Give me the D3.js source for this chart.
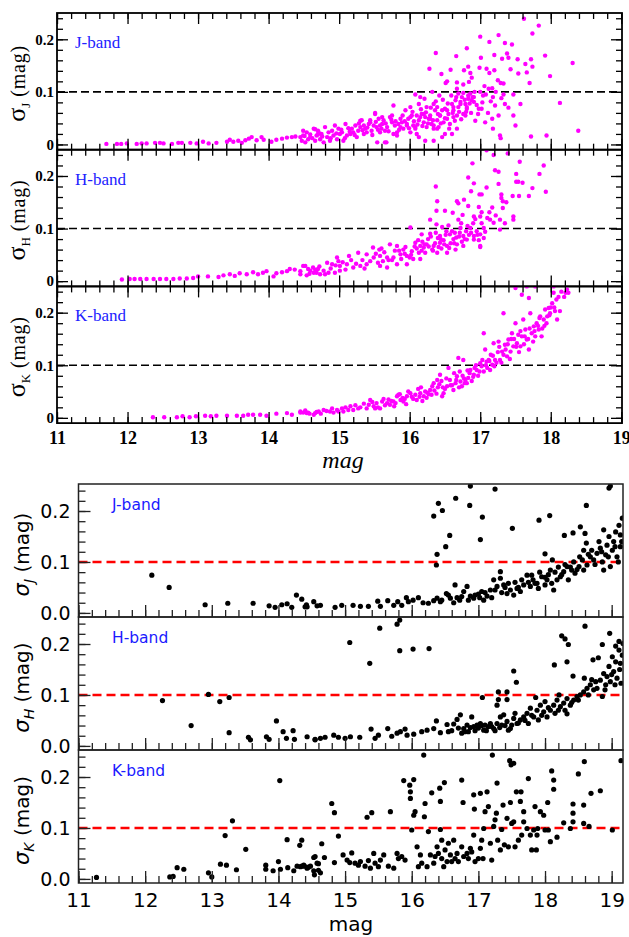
<!DOCTYPE html>
<html>
<head>
<meta charset="utf-8">
<script src="https://cdn.jsdelivr.net/npm/d3@7"></script>
<style>
  body { margin: 0; background: #fff; }
  svg { display: block; }
</style>
</head>
<body>
<svg id="chart" width="629" height="937"></svg>
<script>
// ---- data: [mag, sigma] ----
const bands = ["J", "H", "K"];
const magTicks = [11, 12, 13, 14, 15, 16, 17, 18, 19];
const sigmaTicks = [0, 0.1, 0.2];
const topSigmaLabels = ["0", "0.1", "0.2"];
const bottomSigmaLabels = ["0.0", "0.1", "0.2"];
const limit = 0.1;

const topJ = [
  [11.70,0.001],[11.85,0.001],[11.91,0.001],[11.99,0.002],[12.13,0.001],[12.20,0.002],[12.27,0.002],[12.39,0.003],[12.46,0.003],[12.51,0.002],
  [12.63,0.001],[12.72,0.003],[12.77,0.003],[12.89,0.003],[12.98,0.002],[13.07,0.005],[13.15,0.002],[13.26,0.003],[13.41,0.005],[13.45,0.009],
  [13.50,0.005],[13.57,0.007],[13.62,0.003],[13.67,0.008],[13.72,0.011],[13.76,0.014],[13.83,0.008],[13.90,0.014],[13.93,0.009],[14.04,0.005],
  [14.11,0.009],[14.19,0.011],[14.26,0.013],[14.33,0.014],[14.38,0.015],[14.45,0.014],[14.49,0.026],[14.51,0.016],[14.59,0.019],[14.66,0.029],[14.70,0.019],
  [14.47,0.007],[14.49,0.017],[14.52,0.004],[14.54,0.023],[14.56,0.010],[14.59,0.014],[14.64,0.030],[14.66,0.007],[14.68,0.017],[14.71,0.023],
  [14.73,0.010],[14.75,0.020],[14.78,0.004],[14.80,0.033],[14.83,0.014],[14.85,0.023],[14.87,0.007],[14.90,0.026],[14.92,0.017],[14.94,0.036],
  [14.97,0.010],[14.99,0.030],[15.01,0.020],[15.04,0.023],[15.06,0.007],[15.09,0.039],[15.11,0.017],[15.16,0.020],[15.18,0.030],[15.20,0.023],
  [15.23,0.036],[15.25,0.014],[15.27,0.026],[15.30,0.033],[15.32,0.046],[15.35,0.020],[15.37,0.030],[15.39,0.023],[15.42,0.039],[15.44,0.046],
  [15.46,0.026],[15.49,0.036],[15.51,0.058],[15.53,0.033],[15.56,0.049],[15.58,0.023],[15.61,0.039],[15.63,0.046],[15.65,0.004],[15.68,0.033],
  [15.72,0.052],[15.75,0.042],[15.77,0.020],[15.79,0.036],[15.82,0.017],[15.84,0.039],[15.87,0.033],[15.89,0.042],[15.91,0.030],[15.96,0.039],
  [15.98,0.049],[16.01,0.023],[16.03,0.055],[16.05,0.036],[16.08,0.033],[16.10,0.020],[16.13,0.046],[16.15,0.052],[16.17,0.058],[16.20,0.042],
  [16.22,0.052],[16.24,0.033],[16.27,0.049],[16.29,0.055],[16.31,0.039],[16.34,0.030],[16.36,0.065],[16.39,0.046],[16.41,0.033],[16.43,0.055],
  [16.46,0.065],[16.48,0.042],[16.50,0.068],[16.53,0.049],[16.55,0.058],[16.57,0.039],[16.60,0.077],[16.62,0.065],[16.65,0.084],[16.67,0.055],
  [16.69,0.071],[16.72,0.081],[16.74,0.090],[16.76,0.058],[16.79,0.077],[16.81,0.071],[16.83,0.087],[16.86,0.097],[16.88,0.084],[16.91,0.090],
  [17.62,0.239],[17.83,0.226],[17.74,0.211],[17.00,0.205],[17.26,0.208],[17.13,0.195],[17.35,0.193],[17.45,0.190],[16.81,0.183],[16.37,0.174],
  [16.66,0.168],[17.20,0.170],[17.01,0.165],[17.38,0.173],[17.40,0.165],[17.31,0.163],[17.53,0.162],[17.92,0.169],[18.31,0.155],[17.64,0.153],
  [17.72,0.162],[17.74,0.148],[16.28,0.144],[16.45,0.134],[16.58,0.142],[16.77,0.141],[16.83,0.148],[16.86,0.136],[16.99,0.146],[17.09,0.144],
  [17.13,0.136],[17.20,0.141],[17.43,0.143],[17.54,0.135],[17.66,0.137],[17.99,0.130],[16.51,0.117],[16.53,0.120],[16.67,0.118],[16.76,0.114],
  [16.84,0.119],[16.88,0.127],[17.06,0.111],[17.25,0.122],[17.29,0.117],[17.33,0.116],[17.70,0.117],[17.12,0.106],[17.17,0.107],[16.67,0.106],
  [16.32,0.100],[16.08,0.095],[16.15,0.090],[16.21,0.087],[16.42,0.093],[16.59,0.093],[16.69,0.097],[16.76,0.098],[16.83,0.093],[16.89,0.090],
  [17.00,0.100],[17.18,0.090],[17.33,0.095],[17.47,0.095],[17.04,0.093],[15.77,0.074],[16.01,0.071],[15.94,0.065],[16.13,0.077],[16.24,0.071],
  [16.34,0.077],[16.39,0.071],[16.53,0.065],[16.62,0.071],[16.72,0.077],[16.81,0.068],[16.91,0.081],[16.98,0.068],[17.02,0.068],[17.21,0.074],
  [17.35,0.077],[17.57,0.077],[18.13,0.079],[15.51,0.060],[15.61,0.052],[15.75,0.055],[15.87,0.049],[16.01,0.052],[16.10,0.055],[16.20,0.058],
  [16.29,0.049],[16.43,0.055],[16.62,0.052],[16.79,0.055],[16.93,0.045],[17.07,0.042],[17.17,0.049],[17.26,0.055],[17.47,0.055],[17.50,0.036],
  [17.18,0.030],[17.28,0.017],[17.29,0.012],[17.72,0.015],[17.94,0.017],[18.39,0.026],[15.30,0.045],[15.35,0.036],[15.44,0.042],[15.58,0.036],
  [15.65,0.026],[15.82,0.023],[15.96,0.036],[16.08,0.030],[16.13,0.014],[16.22,0.007],[16.34,0.036],[16.39,0.030],[16.46,0.014],[16.50,0.020],
  [16.60,0.020],[16.67,0.030],[15.54,0.004],[15.67,0.004],[16.34,0.007],
  [14.62,0.012],[14.70,0.026],[14.76,0.015],[14.88,0.012],[14.96,0.021],[15.03,0.028],[15.08,0.012],[15.13,0.031],[15.15,0.024],[15.22,0.018],
  [15.28,0.040],[15.33,0.027],[15.40,0.032],[15.47,0.018],[15.52,0.043],[15.55,0.028],[15.60,0.030],[15.66,0.040],[15.70,0.025],[15.74,0.047],
  [15.80,0.044],[15.85,0.028],[15.90,0.055],[15.93,0.044],[15.99,0.031],[16.04,0.062],[16.06,0.044],[16.11,0.038],[16.16,0.067],[16.18,0.035],
  [16.23,0.061],[16.26,0.040],[16.30,0.070],[16.33,0.046],[16.37,0.082],[16.40,0.058],[16.44,0.040],[16.47,0.085],[16.50,0.050],[16.54,0.078],
  [16.56,0.030],[16.61,0.060],[16.64,0.045],[16.66,0.090],[16.70,0.062],[16.73,0.048],[16.78,0.085],[16.80,0.062],[16.85,0.078],[16.87,0.060],
  [16.92,0.100],[16.95,0.075],[16.97,0.058],[17.03,0.080],[17.08,0.095],[17.11,0.060],[17.15,0.082],[17.22,0.100],[17.30,0.088],[17.40,0.070]
];

const topH = [
  [11.92,0.003],[12.03,0.004],[12.10,0.004],[12.18,0.004],[12.27,0.004],[12.37,0.004],[12.46,0.004],[12.55,0.004],[12.65,0.004],[12.74,0.005],
  [12.84,0.005],[12.93,0.006],[13.00,0.009],[13.14,0.009],[13.29,0.008],[13.36,0.011],[13.45,0.013],[13.52,0.010],[13.59,0.015],[13.69,0.013],
  [13.78,0.017],[13.85,0.013],[13.92,0.016],[13.97,0.019],[14.07,0.009],[14.11,0.015],[14.19,0.017],[14.26,0.019],[14.30,0.023],[14.37,0.022],
  [14.45,0.019],[14.49,0.029],[14.56,0.023],[14.63,0.026],[14.70,0.023],
  [14.52,0.029],[14.59,0.020],[14.68,0.016],[14.78,0.020],[14.85,0.016],[14.94,0.016],[15.01,0.020],[14.45,0.013],[14.54,0.011],[14.64,0.016],
  [14.73,0.013],[14.83,0.035],[14.90,0.032],[15.01,0.029],[15.11,0.032],[15.20,0.026],[15.30,0.029],[15.39,0.032],[15.58,0.029],[15.68,0.026],
  [15.82,0.032],[15.96,0.032],[14.97,0.045],[14.99,0.038],[15.14,0.048],[15.27,0.054],[15.39,0.051],[15.49,0.045],[15.58,0.048],[15.68,0.045],
  [15.77,0.045],[15.87,0.051],[15.96,0.048],[16.05,0.042],[16.15,0.042],[15.48,0.064],[15.57,0.060],[15.60,0.062],[15.72,0.070],[15.82,0.067],
  [15.91,0.060],[16.03,0.057],[16.13,0.054],[16.22,0.054],[16.39,0.054],[16.53,0.054],[16.65,0.060],[17.00,0.065],[16.08,0.073],[16.15,0.067],
  [16.24,0.070],[16.34,0.067],[16.43,0.073],[16.53,0.067],[16.67,0.070],[16.76,0.067],[16.81,0.079],[16.91,0.079],[17.00,0.067],[16.17,0.089],
  [16.29,0.090],[16.43,0.086],[16.57,0.089],[16.76,0.086],[16.91,0.086],[17.00,0.089],[17.05,0.082],[16.01,0.102],[16.38,0.108],[16.46,0.103],
  [16.55,0.106],[16.72,0.101],[16.86,0.101],[17.05,0.101],[16.29,0.117],[16.69,0.117],[17.00,0.123],[17.14,0.117],[17.19,0.111],[17.28,0.117],
  [17.28,0.098],[17.47,0.123],[17.47,0.117],[16.38,0.134],[16.50,0.134],[16.61,0.130],[16.75,0.126],[16.91,0.123],[17.02,0.131],[17.13,0.131],
  [17.32,0.139],[16.77,0.155],[16.67,0.152],[16.69,0.148],[16.39,0.152],[16.83,0.143],[16.98,0.141],[17.30,0.158],[17.32,0.152],[17.37,0.150],
  [17.46,0.162],[17.55,0.162],[17.69,0.162],[16.87,0.171],[16.99,0.165],[17.02,0.165],[17.09,0.178],[17.26,0.185],[17.30,0.165],[17.51,0.189],
  [17.54,0.189],[17.60,0.187],[17.74,0.177],[17.93,0.170],[16.37,0.180],[16.91,0.186],[16.83,0.197],[17.51,0.204],[17.84,0.204],[17.21,0.211],
  [17.26,0.208],[16.89,0.224],[17.56,0.227],[17.90,0.220],[17.09,0.249],[17.19,0.240],[17.39,0.243],
  [15.62,0.038],[15.75,0.040],[15.85,0.058],[15.93,0.052],[16.00,0.045],[16.10,0.062],[16.18,0.075],[16.20,0.064],[16.26,0.080],[16.32,0.060],
  [16.36,0.072],[16.40,0.082],[16.45,0.062],[16.48,0.078],[16.52,0.095],[16.58,0.072],[16.62,0.080],[16.64,0.092],[16.70,0.085],[16.74,0.075],
  [16.80,0.095],[16.84,0.088],[16.90,0.110],[16.95,0.095],[16.98,0.078],
  [14.58,0.014],[14.66,0.022],[14.72,0.028],[14.80,0.013],[14.88,0.024],[14.95,0.030],[15.05,0.036],[15.09,0.022],[15.17,0.040],[15.24,0.033],
  [15.33,0.040],[15.36,0.024],[15.44,0.038],[15.52,0.052],[15.55,0.035],[15.64,0.055],[15.70,0.040],[15.79,0.058],[15.88,0.042],[15.94,0.065],
  [16.02,0.050],[16.07,0.066],[16.12,0.078],[16.17,0.058],[16.21,0.070],[16.27,0.066],[16.30,0.085],[16.33,0.058],[16.37,0.092],[16.41,0.065],
  [16.44,0.080],[16.49,0.070],[16.51,0.088],[16.56,0.063],[16.60,0.095],[16.63,0.072],[16.66,0.083],[16.71,0.092],[16.73,0.110],[16.78,0.080],
  [16.82,0.105],[16.87,0.092],[16.93,0.118],[16.96,0.088],[17.02,0.110],[17.07,0.094],[17.10,0.120],[17.17,0.140],[17.22,0.125],[17.35,0.110]
];

const topK = [
  [12.36,0.001],[12.52,0.001],[12.70,0.001],[12.78,0.003],[12.88,0.001],[12.97,0.003],[13.10,0.004],[13.18,0.003],[13.26,0.004],[13.41,0.004],
  [13.55,0.004],[13.64,0.004],[13.71,0.006],[13.78,0.006],[13.88,0.006],[13.97,0.004],[14.11,0.008],[14.26,0.009],[14.33,0.006],[14.45,0.012],
  [14.49,0.010],[14.52,0.014],[14.56,0.010],[14.66,0.009],[14.71,0.012],
  [14.45,0.010],[14.52,0.012],[14.54,0.009],[14.64,0.006],[14.78,0.015],[14.87,0.012],[14.92,0.010],[14.97,0.015],[15.04,0.018],[15.06,0.012],
  [15.16,0.022],[15.20,0.015],[15.27,0.018],[15.39,0.018],[15.42,0.025],[15.44,0.034],[15.49,0.022],[15.53,0.028],[15.58,0.018],[15.61,0.031],
  [15.68,0.028],[15.72,0.025],[15.77,0.031],[15.82,0.041],[15.84,0.044],[15.87,0.034],[15.91,0.031],[15.96,0.041],[16.01,0.047],[16.08,0.044],
  [16.10,0.034],[16.15,0.047],[16.20,0.041],[16.24,0.038],[16.29,0.053],[16.31,0.044],[16.34,0.066],[16.39,0.072],[16.43,0.082],[16.46,0.041],
  [16.48,0.047],[16.53,0.060],[16.55,0.095],[16.57,0.072],[16.62,0.053],[16.65,0.066],[16.67,0.079],[16.69,0.114],[16.72,0.069],[16.74,0.060],
  [16.76,0.110],[16.79,0.072],[16.81,0.066],[16.83,0.076],[16.86,0.091],[16.91,0.082],[16.95,0.091],[17.00,0.104],[17.02,0.098],[17.05,0.161],
  [17.07,0.130],[17.09,0.107],[17.12,0.110],[17.14,0.091],[17.17,0.101],[17.19,0.142],[17.21,0.110],[17.26,0.145],[17.28,0.110],[17.31,0.126],
  [17.33,0.199],[17.35,0.139],[17.38,0.117],[17.40,0.149],[17.43,0.126],[17.45,0.161],[17.47,0.136],[17.50,0.180],[17.52,0.142],[17.54,0.158],
  [17.57,0.136],[17.59,0.155],[17.61,0.187],[17.64,0.168],[17.66,0.149],[17.69,0.130],[17.71,0.199],[17.73,0.161],[17.76,0.174],[17.78,0.155],
  [17.80,0.180],[17.83,0.168],[17.85,0.193],[17.87,0.155],[17.90,0.187],[17.92,0.206],[17.95,0.193],[17.97,0.209],[17.99,0.199],[18.02,0.218],
  [18.04,0.238],[18.06,0.203],[18.09,0.187],[18.13,0.203],[18.21,0.238],[18.23,0.244],[18.25,0.238],[17.50,0.247],[17.66,0.250],[17.78,0.250],
  [18.04,0.250],[17.59,0.234],[17.69,0.228],
  [15.55,0.020],[15.65,0.024],[15.70,0.035],[15.80,0.028],[15.90,0.038],[15.95,0.026],[16.05,0.036],[16.12,0.055],[16.18,0.032],[16.22,0.050],
  [16.27,0.045],[16.35,0.052],[16.40,0.058],[16.45,0.070],[16.50,0.055],[16.60,0.062],[16.63,0.085],[16.70,0.058],[16.75,0.080],[16.78,0.066],
  [16.85,0.085],[16.88,0.070],[16.92,0.095],[16.97,0.080],[17.05,0.088],[17.10,0.095],[17.15,0.120],[17.20,0.098],[17.25,0.125],[17.30,0.105],
  [17.36,0.130],[17.42,0.112],[17.48,0.150],[17.55,0.125],[17.62,0.140],[17.68,0.150],[17.75,0.145],[17.82,0.175],[17.88,0.170],[17.94,0.180],
  [18.00,0.210],[18.08,0.225],[18.15,0.240],[18.19,0.230],
  [14.58,0.008],[14.68,0.011],[14.74,0.008],[14.82,0.013],[14.90,0.018],[14.99,0.012],[15.09,0.020],[15.13,0.015],[15.23,0.024],[15.30,0.020],
  [15.35,0.027],[15.47,0.030],[15.51,0.018],[15.63,0.036],[15.74,0.032],[15.78,0.022],[15.86,0.045],[15.93,0.036],[15.98,0.050],[16.03,0.040],
  [16.14,0.040],[16.16,0.058],[16.25,0.048],[16.32,0.060],[16.38,0.046],[16.42,0.064],[16.47,0.058],[16.52,0.075],[16.58,0.062],[16.66,0.072],
  [16.71,0.088],[16.77,0.075],[16.82,0.090],[16.90,0.078],[16.94,0.100],[16.99,0.088],[17.03,0.110],[17.08,0.100],[17.13,0.108],[17.18,0.118],
  [17.23,0.105],[17.27,0.135],[17.33,0.120],[17.39,0.140],[17.44,0.150],[17.51,0.135],[17.57,0.165],[17.63,0.155],[17.70,0.170],[17.77,0.165],
  [17.84,0.190],[17.91,0.175],[17.98,0.195],[18.05,0.210],[18.11,0.230]
];

const botJ = [
  [12.10,0.074],[12.36,0.050],[12.90,0.016],[13.24,0.019],[13.62,0.019],[13.86,0.014],[13.95,0.011],[14.05,0.016],[14.13,0.018],[14.20,0.011],
  [14.27,0.035],[14.35,0.027],[14.40,0.012],[14.42,0.016],[14.53,0.022],[14.58,0.014],[14.43,0.012],[14.63,0.015],[14.85,0.011],[14.95,0.015],
  [15.12,0.015],[15.23,0.013],[15.35,0.013],[15.49,0.023],[15.53,0.013],[15.64,0.024],[15.73,0.015],[15.79,0.022],[15.85,0.015],[15.92,0.030],
  [15.95,0.022],[16.02,0.025],[16.10,0.030],[16.17,0.020],[16.25,0.019],[16.33,0.024],[16.38,0.029],[16.43,0.022],[16.52,0.038],[16.58,0.029],
  [16.63,0.020],[16.65,0.055],[16.72,0.025],[16.78,0.042],[16.83,0.052],[16.88,0.033],[16.93,0.029],[17.00,0.037],[17.05,0.042],[17.08,0.025],
  [17.13,0.033],[17.18,0.045],[17.23,0.065],[17.28,0.052],[17.33,0.068],[17.33,0.081],[17.38,0.055],[17.43,0.038],[17.45,0.058],[17.53,0.035],
  [17.58,0.048],[17.63,0.042],[17.68,0.055],[17.73,0.074],[17.78,0.052],[17.80,0.074],[17.85,0.058],[17.90,0.048],[17.95,0.071],[18.00,0.055],
  [18.03,0.065],[18.08,0.084],[18.10,0.058],[18.13,0.045],[18.18,0.065],[18.23,0.071],[18.28,0.081],[18.33,0.091],[18.35,0.065],[18.40,0.084],
  [18.43,0.100],[18.45,0.078],[18.51,0.091],[18.56,0.104],[18.58,0.084],[18.63,0.094],[18.68,0.110],[18.70,0.123],[18.73,0.104],[18.78,0.117],
  [18.81,0.140],[18.83,0.127],[18.86,0.100],[18.88,0.163],[18.88,0.084],[18.91,0.114],[18.93,0.133],[18.96,0.150],[18.98,0.091],[19.01,0.123],
  [19.03,0.140],[19.06,0.159],[19.08,0.110],[19.11,0.172],[19.13,0.130],[19.16,0.186],[19.13,0.153],[18.58,0.123],[18.62,0.137],[18.60,0.156],
  [18.53,0.169],[18.42,0.157],[18.29,0.152],[18.00,0.116],[18.11,0.104],[16.38,0.115],[16.37,0.094],[16.33,0.190],[16.40,0.215],[16.46,0.201],
  [16.51,0.130],[16.57,0.152],[16.66,0.225],[16.87,0.211],[16.88,0.249],[17.06,0.188],[17.03,0.144],[17.25,0.243],[17.51,0.166],[17.91,0.182],
  [18.07,0.191],[18.62,0.211],[18.96,0.245],[18.98,0.249],
  [17.10,0.040],[17.20,0.030],[17.25,0.045],[17.35,0.040],[17.40,0.050],[17.48,0.045],[17.55,0.060],[17.60,0.050],[17.65,0.065],[17.75,0.060],
  [17.82,0.065],[17.88,0.058],[17.92,0.080],[18.00,0.070],[18.05,0.075],[18.15,0.080],[18.20,0.090],[18.25,0.075],[18.30,0.095],[18.38,0.090],
  [18.48,0.085],[18.52,0.110],[18.65,0.115],[18.75,0.095],[18.85,0.120],[18.95,0.110],[19.05,0.130],[19.10,0.100],[19.15,0.140],[16.95,0.035],
  [17.02,0.030],[16.75,0.032],[16.85,0.025],[16.45,0.025],[16.55,0.035],[16.68,0.030]
];

const botH = [
  [12.26,0.089],[12.69,0.040],[12.95,0.101],[13.12,0.087],[13.26,0.095],[13.26,0.026],[13.55,0.017],[13.58,0.012],[13.82,0.018],[13.86,0.013],
  [13.97,0.049],[14.07,0.028],[14.12,0.015],[14.22,0.030],[14.24,0.013],[14.43,0.018],[14.55,0.012],
  [14.55,0.013],[14.63,0.015],[14.70,0.017],[14.83,0.021],[14.90,0.017],[15.00,0.015],[15.08,0.018],[15.07,0.203],[15.22,0.017],
  [15.37,0.162],[15.39,0.033],[15.45,0.015],[15.50,0.021],[15.52,0.231],[15.64,0.034],[15.70,0.019],[15.78,0.025],[15.83,0.028],[15.90,0.033],
  [15.93,0.021],[16.03,0.023],[15.78,0.239],[15.82,0.247],[15.82,0.187],[16.02,0.190],[16.26,0.191],
  [16.15,0.028],[16.23,0.031],[16.33,0.034],[16.37,0.049],[16.43,0.026],[16.53,0.042],[16.55,0.028],[16.63,0.043],[16.68,0.052],[16.73,0.061],
  [16.75,0.025],[16.78,0.034],[16.83,0.041],[16.85,0.028],[16.90,0.057],[16.93,0.038],[16.98,0.041],[17.03,0.044],[17.08,0.031],[17.10,0.041],
  [17.15,0.038],[17.18,0.044],[17.23,0.034],[17.28,0.044],[17.33,0.057],[17.35,0.041],[17.38,0.061],[17.43,0.048],[17.45,0.031],[17.50,0.041],
  [17.53,0.054],[17.55,0.064],[17.58,0.044],[17.63,0.051],[17.68,0.057],[17.73,0.064],[17.75,0.044],[17.78,0.074],[17.83,0.057],[17.88,0.070],
  [17.90,0.051],[17.93,0.080],[17.98,0.067],[18.00,0.087],[18.03,0.057],[18.08,0.070],[18.13,0.080],[18.15,0.064],[18.18,0.090],[18.23,0.077],
  [18.28,0.084],[18.30,0.070],[18.33,0.093],[18.38,0.080],[18.43,0.090],[18.48,0.097],[18.53,0.100],[18.58,0.106],[18.63,0.113],[18.68,0.120],
  [18.73,0.110],[18.76,0.126],[18.78,0.113],[18.83,0.129],[18.86,0.097],[18.88,0.142],[18.91,0.120],[18.93,0.136],[18.96,0.156],[18.98,0.126],
  [19.01,0.175],[19.03,0.146],[19.06,0.165],[19.08,0.133],[19.11,0.188],[19.13,0.162],[19.14,0.123],[19.16,0.178],[19.17,0.201],
  [17.06,0.095],[17.28,0.080],[17.30,0.091],[17.30,0.106],[17.43,0.106],[17.43,0.091],[17.53,0.147],[17.57,0.125],[17.86,0.095],[18.14,0.159],
  [18.25,0.216],[18.30,0.210],[18.35,0.199],[18.33,0.165],[18.42,0.137],[18.60,0.235],[18.59,0.133],[18.72,0.169],[18.80,0.173],[18.86,0.199],
  [18.97,0.221],[19.06,0.196],[19.11,0.205],[18.33,0.063],[18.21,0.100],
  [16.60,0.030],[16.70,0.035],[16.80,0.028],[16.88,0.036],[16.95,0.030],[17.00,0.035],[17.05,0.040],[17.12,0.030],[17.20,0.038],[17.25,0.030],
  [17.32,0.036],[17.40,0.040],[17.48,0.034],[17.60,0.045],[17.70,0.050],[17.80,0.060],[17.95,0.060],[18.05,0.075],[18.20,0.070],[18.40,0.085],
  [18.50,0.090],[18.65,0.100],[18.70,0.130],[18.90,0.110],[19.00,0.140],[19.05,0.120],[19.12,0.150]
];

const botK = [
  [11.27,0.003],[12.37,0.004],[12.42,0.005],[12.48,0.022],[12.58,0.019],[12.95,0.012],[13.00,0.004],[13.13,0.029],[13.22,0.027],[13.20,0.085],
  [13.31,0.114],[13.37,0.018],[13.51,0.058],[13.81,0.027],[13.81,0.019],[13.92,0.016],[14.00,0.034],[14.03,0.019],[14.13,0.077],[14.14,0.022],
  [14.23,0.016],[14.28,0.025],[14.32,0.066],[14.35,0.076],[14.35,0.025],[14.39,0.025],[14.45,0.023],[14.53,0.042],[14.54,0.008],[14.60,0.030],
  [14.02,0.193],
  [14.33,0.024],[14.38,0.027],[14.43,0.021],[14.48,0.025],[14.53,0.016],[14.55,0.044],[14.58,0.031],[14.60,0.017],[14.63,0.012],[14.65,0.069],
  [14.69,0.042],[14.80,0.148],[14.84,0.130],[14.84,0.032],[14.90,0.084],[14.97,0.047],[15.03,0.037],[15.07,0.032],[15.10,0.051],[15.15,0.031],
  [15.20,0.027],[15.23,0.034],[15.30,0.025],[15.33,0.121],[15.35,0.036],[15.38,0.021],[15.40,0.130],[15.43,0.050],[15.45,0.031],[15.50,0.024],
  [15.53,0.037],[15.58,0.047],[15.65,0.025],[15.68,0.132],[15.73,0.021],[15.78,0.050],[15.80,0.040],[15.85,0.044],[15.88,0.193],[15.90,0.037],
  [15.97,0.184],[15.98,0.171],[15.98,0.158],[16.00,0.096],[16.03,0.195],[16.03,0.125],[16.05,0.132],[16.08,0.063],[16.10,0.024],[16.13,0.047],
  [16.15,0.031],[16.18,0.243],[16.19,0.122],[16.20,0.148],[16.23,0.024],[16.25,0.093],[16.28,0.047],[16.30,0.169],[16.33,0.031],[16.35,0.044],
  [16.38,0.063],[16.40,0.050],[16.42,0.178],[16.43,0.152],[16.43,0.097],[16.45,0.076],[16.45,0.040],[16.48,0.024],[16.49,0.189],[16.50,0.057],
  [16.53,0.034],[16.55,0.070],[16.58,0.047],[16.60,0.034],[16.63,0.076],[16.65,0.040],[16.68,0.050],[16.70,0.034],[16.75,0.194],[16.75,0.063],
  [16.77,0.150],[16.78,0.044],[16.83,0.050],[16.85,0.040],[16.88,0.060],[16.90,0.053],[16.93,0.165],[16.93,0.086],[16.94,0.137],[16.95,0.034],
  [17.00,0.040],[17.03,0.060],[17.03,0.168],[17.05,0.076],[17.07,0.040],[17.08,0.099],[17.10,0.132],[17.13,0.171],[17.15,0.142],[17.18,0.070],
  [17.20,0.037],[17.21,0.243],[17.23,0.103],[17.25,0.116],[17.27,0.129],[17.28,0.188],[17.29,0.076],[17.33,0.057],[17.35,0.097],[17.37,0.145],
  [17.39,0.067],[17.43,0.119],[17.45,0.063],[17.47,0.232],[17.48,0.150],[17.49,0.224],[17.50,0.109],[17.53,0.227],[17.53,0.112],[17.55,0.063],
  [17.57,0.171],[17.60,0.076],[17.63,0.152],[17.64,0.171],[17.65,0.086],[17.68,0.132],[17.68,0.112],[17.73,0.099],[17.75,0.197],[17.78,0.086],
  [17.80,0.057],[17.83,0.096],[17.85,0.142],[17.87,0.057],[17.88,0.086],[17.89,0.099],[17.93,0.132],[17.98,0.125],[18.00,0.096],[18.04,0.150],
  [18.05,0.096],[18.08,0.073],[18.10,0.212],[18.13,0.194],[18.13,0.176],[18.18,0.082],[18.28,0.110],[18.38,0.099],[18.42,0.147],[18.42,0.129],
  [18.42,0.112],[18.50,0.206],[18.58,0.145],[18.58,0.109],[18.59,0.230],[18.66,0.103],[18.69,0.168],[18.83,0.173],[19.01,0.096],[19.14,0.232]
];

// ---- drawing ----
const svg = d3.select("#chart");
const defs = svg.append("defs");

const minorMag = d3.range(0, 42).map(i => 11 + i * 0.2);
const minorSigma = d3.range(0, 13).map(i => i * 0.02);

const figures = [
  {
    id: "top", series: [topJ, topH, topK],
    xDomain: [11, 19.01], xRange: [57, 622],
    top: 13, panelH: 136.7, yDomain: [-0.01, 0.25],
    yLabels: topSigmaLabels,
    font: "'Liberation Serif', 'Times New Roman', serif", weight: "bold",
    yFontSize: 15, yPad: 3, xFontSize: 18, xPad: 8,
    frameColor: "#000", frameWidth: 1.8, tickWidth: 1.3, majorLen: 11, minorLen: 6,
    ticksTop: true, ticksRight: true,
    pointColor: "#ff00ff", r: 2.2,
    limitColor: "#000", limitWidth: 1.6, limitDash: "8,4",
    bandX: 75, bandDy: 35, bandFont: 17, bandColor: "#2222ff",
    labelX: 25, labelDy: 2
  },
  {
    id: "bottom", series: [botJ, botH, botK],
    xDomain: [11, 19.17], xRange: [78.5, 623],
    top: 484, panelH: 133, yDomain: [-0.008, 0.253],
    yLabels: bottomSigmaLabels,
    font: "'DejaVu Sans', sans-serif", weight: "normal",
    yFontSize: 19, yPad: 8, xFontSize: 20, xPad: 10,
    frameColor: "#222", frameWidth: 1.5, tickWidth: 1.3, majorLen: 12, minorLen: 7,
    ticksTop: false, ticksRight: false,
    pointColor: "#000", r: 2.6,
    limitColor: "#ff0000", limitWidth: 2.5, limitDash: "9,5",
    bandX: 112, bandDy: 26, bandFont: 15.5, bandColor: "#1a1aff",
    labelX: 29, labelDy: 4
  }
];

function styleTicks(f) {
  return a => {
    a.select(".domain").remove();
    a.selectAll(".tick line").attr("stroke", f.frameColor).attr("stroke-width", f.tickWidth);
    a.attr("font-family", f.font).attr("color", "#000");
    a.selectAll(".tick text").attr("font-weight", f.weight);
  };
}

figures.forEach(f => {
  const x = d3.scaleLinear().domain(f.xDomain).range(f.xRange);
  const [x0, x1] = f.xRange;
  const fig = svg.append("g").attr("class", `${f.id}-figure`);

  f.series.forEach((data, i) => {
    const top = f.top + i * f.panelH;
    const bottom = top + f.panelH;
    const y = d3.scaleLinear().domain(f.yDomain).range([bottom, top]);
    const g = fig.append("g").attr("class", "panel");

    const clipId = `${f.id}-clip-${i}`;
    defs.append("clipPath").attr("id", clipId).append("rect")
      .attr("x", x0).attr("y", top).attr("width", x1 - x0).attr("height", f.panelH);

    // 0.1 mag limit
    g.append("line")
      .attr("x1", x0).attr("x2", x1)
      .attr("y1", y(limit)).attr("y2", y(limit))
      .attr("stroke", f.limitColor).attr("stroke-width", f.limitWidth)
      .attr("stroke-dasharray", f.limitDash);

    g.append("g").attr("clip-path", `url(#${clipId})`)
      .selectAll("circle").data(data).join("circle")
      .attr("cx", d => x(d[0]))
      .attr("cy", d => y(d[1]))
      .attr("r", f.r)
      .attr("fill", f.pointColor);

    // y ticks (inward)
    g.append("g").attr("transform", `translate(${x0},0)`)
      .call(d3.axisLeft(y).tickValues(minorSigma).tickFormat("").tickSize(-f.minorLen))
      .call(styleTicks(f));
    g.append("g").attr("transform", `translate(${x0},0)`)
      .call(d3.axisLeft(y).tickValues(sigmaTicks).tickFormat((d, k) => f.yLabels[k])
        .tickSize(-f.majorLen).tickPadding(f.yPad))
      .call(styleTicks(f))
      .attr("font-size", f.yFontSize);

    if (f.ticksRight) {
      g.append("g").attr("transform", `translate(${x1},0)`)
        .call(d3.axisRight(y).tickValues(minorSigma).tickFormat("").tickSize(-f.minorLen))
        .call(styleTicks(f));
      g.append("g").attr("transform", `translate(${x1},0)`)
        .call(d3.axisRight(y).tickValues(sigmaTicks).tickFormat("").tickSize(-f.majorLen))
        .call(styleTicks(f));
    }

    // x ticks (inward)
    const last = i === f.series.length - 1;
    g.append("g").attr("transform", `translate(0,${bottom})`)
      .call(d3.axisBottom(x).tickValues(minorMag.filter(v => v <= f.xDomain[1])).tickFormat("").tickSize(-f.minorLen))
      .call(styleTicks(f));
    g.append("g").attr("transform", `translate(0,${bottom})`)
      .call(d3.axisBottom(x).tickValues(magTicks).tickFormat(last ? d3.format("d") : "")
        .tickSize(-f.majorLen).tickPadding(f.xPad))
      .call(styleTicks(f))
      .attr("font-size", f.xFontSize);

    if (f.ticksTop) {
      g.append("g").attr("transform", `translate(0,${top})`)
        .call(d3.axisTop(x).tickValues(minorMag.filter(v => v <= f.xDomain[1])).tickFormat("").tickSize(-f.minorLen))
        .call(styleTicks(f));
      g.append("g").attr("transform", `translate(0,${top})`)
        .call(d3.axisTop(x).tickValues(magTicks).tickFormat("").tickSize(-f.majorLen))
        .call(styleTicks(f));
    }

    g.append("rect")
      .attr("x", x0).attr("y", top)
      .attr("width", x1 - x0).attr("height", f.panelH)
      .attr("fill", "none")
      .attr("stroke", f.frameColor).attr("stroke-width", f.frameWidth);

    // band name
    g.append("text")
      .attr("x", f.bandX).attr("y", top + f.bandDy)
      .attr("font-family", f.font).attr("font-size", f.bandFont)
      .attr("fill", f.bandColor)
      .text(`${bands[i]}-band`);

    // y label
    const lab = g.append("text")
      .attr("transform", `translate(${f.labelX},${top + f.panelH / 2 + f.labelDy}) rotate(-90)`)
      .attr("text-anchor", "middle")
      .attr("font-family", f.font)
      .attr("fill", "#000");
    if (f.id === "top") {
      lab.append("tspan").attr("font-size", 26).text("σ");
      lab.append("tspan").attr("font-size", 13).attr("dy", 5).text(bands[i]);
      lab.append("tspan").attr("font-size", 20).attr("dy", -5).attr("letter-spacing", 0.8).text(" (mag)");
    } else {
      lab.append("tspan").attr("font-size", 21).attr("font-style", "italic").text("σ");
      lab.append("tspan").attr("font-size", 14).attr("font-style", "italic").attr("dy", 5).text(bands[i]);
      lab.append("tspan").attr("font-size", 20).attr("dy", -5).text(" (mag)");
    }
  });
});

// x titles
svg.append("text")
  .attr("x", 343).attr("y", 468)
  .attr("text-anchor", "middle")
  .attr("font-family", "'Liberation Serif', 'Times New Roman', serif")
  .attr("font-style", "italic").attr("font-size", 24)
  .text("mag");

svg.append("text")
  .attr("x", 351).attr("y", 931)
  .attr("text-anchor", "middle")
  .attr("font-family", "'DejaVu Sans', sans-serif")
  .attr("font-size", 20)
  .text("mag");
</script>
</body>
</html>
